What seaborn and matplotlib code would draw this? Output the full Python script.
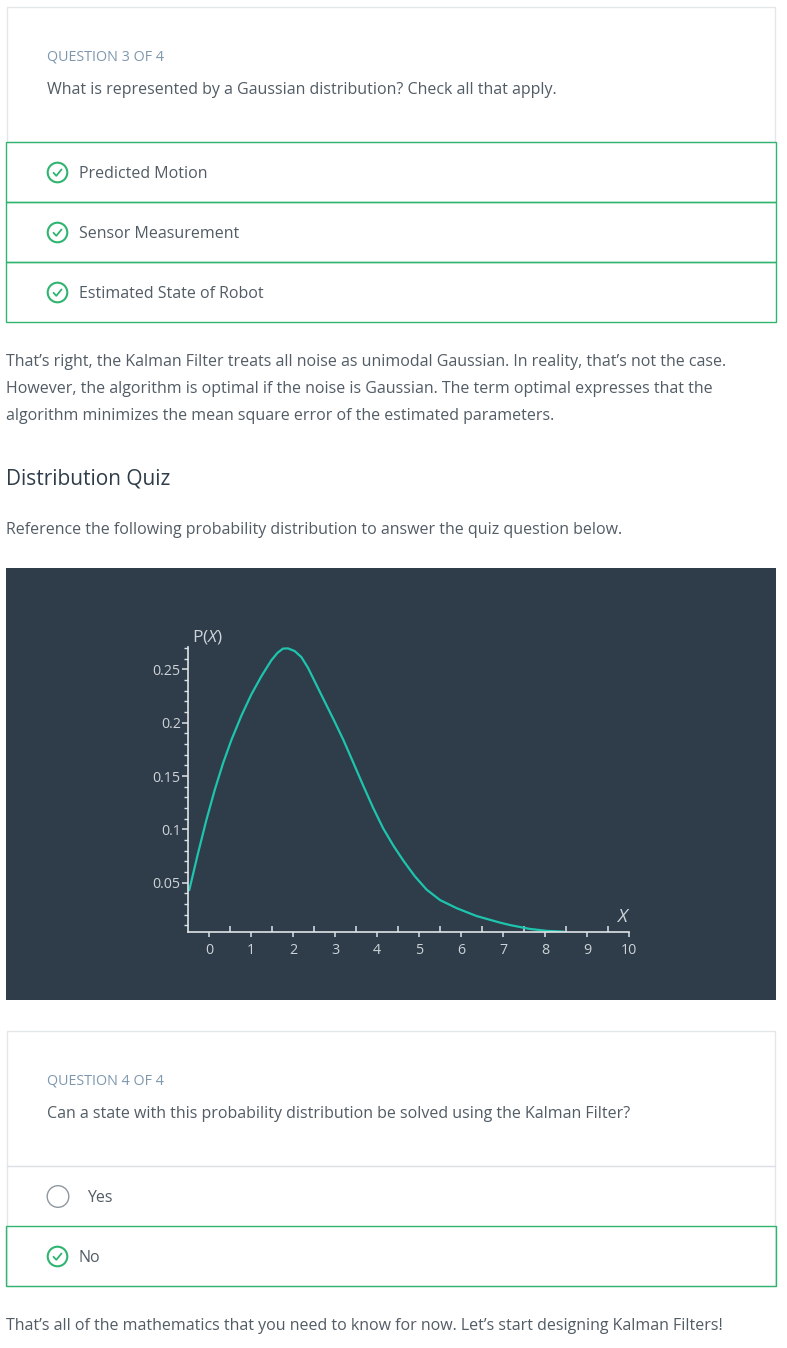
import numpy as np
import pandas as pd
import matplotlib
matplotlib.use("Agg")
import matplotlib.pyplot as plt
import matplotlib.patches as mpatches
from matplotlib.ticker import MultipleLocator, FixedLocator
import seaborn as sns

# ---------------- data ----------------
x_values = [-0.47, -0.262, -0.063, 0.135, 0.333, 0.532, 0.77, 1.008, 1.246, 1.484, 1.63, 1.762,
            1.88, 2.04, 2.2, 2.357, 2.72, 2.96, 3.198, 3.436, 3.674, 3.91, 4.15, 4.39, 4.63,
            4.90, 5.18, 5.5, 5.90, 6.37, 6.93, 7.17, 7.64, 8.04, 8.45]
p_values = [0.043, 0.0775, 0.1087, 0.1368, 0.1618, 0.1837, 0.2065, 0.2265, 0.2435, 0.2585, 0.2655, 0.2695,
            0.2697, 0.2672, 0.2615, 0.2515, 0.2225, 0.2035, 0.1840, 0.1625, 0.1408, 0.1200, 0.1007, 0.0847, 0.0705,
            0.0560, 0.0435, 0.0337, 0.026, 0.0187, 0.0125, 0.0102, 0.0066, 0.0048, 0.004]
x_ticks = [0, 1, 2, 3, 4, 5, 6, 7, 8, 9, 10]
y_ticks = [0.05, 0.1, 0.15, 0.2, 0.25]
y_tick_labels = ["0.05", "0.1", "0.15", "0.2", "0.25"]

q3_label = "QUESTION 3 OF 4"
q3_text = "What is represented by a Gaussian distribution? Check all that apply."
q3_options = ["Predicted Motion", "Sensor Measurement", "Estimated State of Robot"]
para_lines = [
    "That\u2019s right, the Kalman Filter treats all noise as unimodal Gaussian. In reality, that\u2019s not the case.",
    "However, the algorithm is optimal if the noise is Gaussian. The term optimal expresses that the",
    "algorithm minimizes the mean square error of the estimated parameters.",
]
heading = "Distribution Quiz"
ref_text = "Reference the following probability distribution to answer the quiz question below."
q4_label = "QUESTION 4 OF 4"
q4_text = "Can a state with this probability distribution be solved using the Kalman Filter?"
q4_options = ["Yes", "No"]
final_text = "That\u2019s all of the mathematics that you need to know for now. Let\u2019s start designing Kalman Filters!"

# ---------------- style ----------------
sns.set_theme(style="white")
plt.rcParams["font.family"] = ["Open Sans", "DejaVu Sans"]
plt.rcParams["mathtext.fontset"] = "custom"
plt.rcParams["mathtext.rm"] = "Open Sans"
plt.rcParams["mathtext.it"] = "Open Sans:italic"

W, H = 787, 1348
fig = plt.figure(figsize=(W / 100, H / 100), dpi=100)
fig.patch.set_facecolor("white")

page = fig.add_axes([0, 0, 1, 1])
page.set_xlim(0, W)
page.set_ylim(H, 0)
page.axis("off")

GREEN = "#2fb56f"
TEXT = "#525c65"
LABEL = "#7d97ad"
DARK = "#2e3d49"
BODY = 11.5

def rect(x0, y0, x1, y1, ec, fc="none", lw=1.0, z=1):
    page.add_patch(mpatches.Rectangle((x0, y0), x1 - x0, y1 - y0, fc=fc, ec=ec, lw=lw, zorder=z))

def check_icon(cx, cy):
    page.add_patch(mpatches.Circle((cx, cy), 9.8, fc="none", ec=GREEN, lw=1.5, zorder=3))
    page.plot([cx - 4, cx - 1.2, cx + 4], [cy + 0.3, cy + 3.3, cy - 3], color=GREEN, lw=1.3,
              solid_capstyle="round", solid_joinstyle="round", zorder=3)

# card 1
rect(7, 7, 775, 142, ec="#e4e7ea", fc="white", lw=1.0)
page.text(47, 57, q3_label, fontsize=10.3, color=LABEL, va="center", ha="left")
page.text(47, 89.5, q3_text, fontsize=BODY, color=TEXT, va="center", ha="left")
for i, opt in enumerate(q3_options):
    y0 = 142 + 60 * i
    rect(6, y0, 776, y0 + 60, ec=GREEN, lw=1.0, z=2)
    check_icon(57.5, y0 + 30.5)
    page.text(79, y0 + 31.5, opt, fontsize=BODY, color=TEXT, va="center", ha="left")

for i, line in enumerate(para_lines):
    page.text(6, 361.5 + 27.5 * i, line, fontsize=BODY, color=TEXT, va="center", ha="left")

page.text(6, 479, heading, fontsize=15, color=DARK, va="center", ha="left")
page.text(6, 530.5, ref_text, fontsize=BODY, color=TEXT, va="center", ha="left")

# dark chart panel
rect(6, 568, 776, 1000, ec="none", fc=DARK, lw=0, z=0)

# card 2
rect(7, 1031, 775, 1286, ec="#e4e7ea", fc="white", lw=1.0)
page.text(47, 1081, q4_label, fontsize=10.3, color=LABEL, va="center", ha="left")
page.text(47, 1113.5, q4_text, fontsize=BODY, color=TEXT, va="center", ha="left")
page.plot([7, 775], [1166, 1166], color="#dbe0e5", lw=1.0, zorder=2)
page.add_patch(mpatches.Circle((58, 1196.5), 10.8, fc="white", ec="#8e979f", lw=1.0, zorder=3))
page.text(87, 1197.5, q4_options[0], fontsize=BODY, color=TEXT, va="center", ha="left")
rect(6, 1226, 776, 1286, ec=GREEN, lw=1.0, z=2)
check_icon(57.5, 1256.5)
page.text(79, 1257.5, q4_options[1], fontsize=BODY, color=TEXT, va="center", ha="left")

page.text(6, 1326.5, final_text, fontsize=BODY, color=TEXT, va="center", ha="left")

# ---------------- chart ----------------
ax_l, ax_r = 188.3, 629.0
ax_t, ax_b = 647.0, 931.7
ax = fig.add_axes([ax_l / W, 1 - ax_b / H, (ax_r - ax_l) / W, (ax_b - ax_t) / H])
ax.set_facecolor("none")
ax.patch.set_alpha(0)

df = pd.DataFrame({"x": x_values, "p": p_values})
sns.lineplot(data=df, x="x", y="p", ax=ax, color="#1ec4ad", linewidth=1.6, sort=False)
for ln in ax.lines:
    ln.set_solid_joinstyle("round")
    ln.set_solid_capstyle("round")

ax.set_xlim(-0.493, 10.0)
ax.set_ylim(0.004, 0.271)
ax.set_xlabel("")
ax.set_ylabel("")

AXC = "#dfe3e6"
for s in ["top", "right"]:
    ax.spines[s].set_visible(False)
for s in ["left", "bottom"]:
    ax.spines[s].set_visible(True)
    ax.spines[s].set_color(AXC)
    ax.spines[s].set_linewidth(1.2)

ax.xaxis.set_major_locator(FixedLocator(x_ticks))
ax.xaxis.set_minor_locator(FixedLocator([t + 0.5 for t in x_ticks[:-1]]))
ax.yaxis.set_major_locator(FixedLocator(y_ticks))
ax.set_yticklabels(y_tick_labels)
ax.yaxis.set_minor_locator(MultipleLocator(0.01))

LBL = "#cdd3d8"
ax.tick_params(axis="x", which="major", direction="out", length=3.5, width=1.1, color=AXC,
               labelcolor=LBL, labelsize=10.3, pad=4.5, bottom=True)
ax.tick_params(axis="x", which="minor", direction="in", length=4, width=1.1, color=AXC, bottom=True)
ax.tick_params(axis="y", which="major", direction="out", length=4, width=1.1, color=AXC,
               labelcolor=LBL, labelsize=10.3, pad=1.5, left=True)
ax.tick_params(axis="y", which="minor", direction="out", length=3, width=1.0, color=AXC, left=True)
ax.grid(False)

page.text(192, 637, r"P($\mathit{X}$)", fontsize=12.5, color=LBL, va="center", ha="left")
page.text(623, 917, "X", fontsize=13.5, color=LBL, style="italic", va="center", ha="center")

fig.savefig("out.png", dpi=100, facecolor="white")
